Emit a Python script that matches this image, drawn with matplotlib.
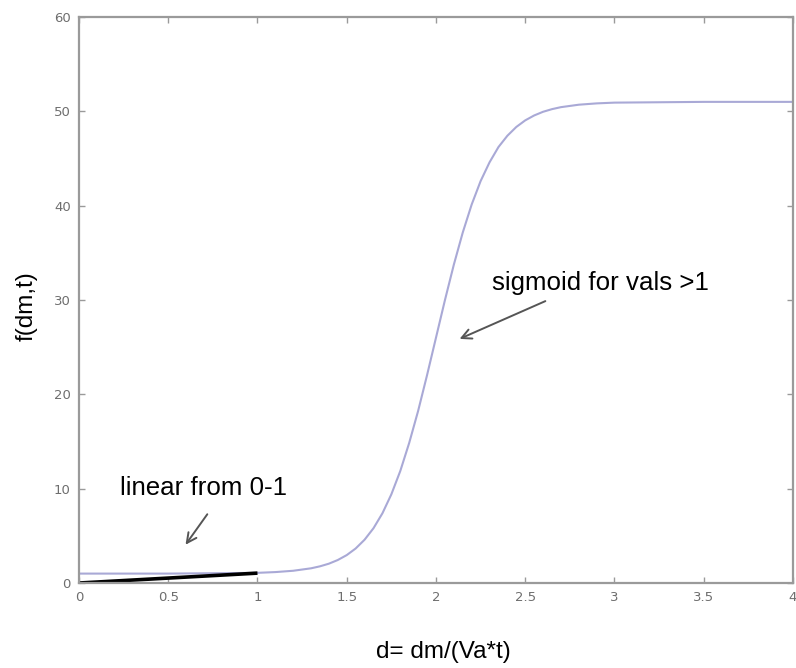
import matplotlib
matplotlib.use('Agg')
import matplotlib.pyplot as plt

plt.rcParams['font.family'] = ['Liberation Sans', 'DejaVu Sans']

# sigmoid curve, values
sig_x = [0.0, 0.5, 1.0, 1.1, 1.2, 1.3, 1.35, 1.4, 1.45, 1.5, 1.55, 1.6, 1.65,
         1.7, 1.75, 1.8, 1.85, 1.9, 1.95, 2.0, 2.05, 2.1, 2.15, 2.2, 2.25,
         2.3, 2.35, 2.4, 2.45, 2.5, 2.55, 2.6, 2.65, 2.7, 2.8, 2.9, 3.0,
         3.5, 4.0]
sig_y = [1.0, 1.0, 1.08, 1.16, 1.3, 1.56, 1.77, 2.05, 2.44, 2.96, 3.66, 4.59,
         5.81, 7.39, 9.4, 11.87, 14.85, 18.24, 22.03, 26.0, 29.97, 33.74,
         37.15, 40.12, 42.6, 44.59, 46.21, 47.41, 48.34, 49.04, 49.56, 49.95,
         50.23, 50.44, 50.7, 50.84, 50.92, 51.0, 51.0]

# linear part 0-1
lin_x = [0.0, 1.0]
lin_y = [0.0, 1.05]

x_ticks = [0, 0.5, 1, 1.5, 2, 2.5, 3, 3.5, 4]
x_labels = ['0', '0.5', '1', '1.5', '2', '2.5', '3', '3.5', '4']
y_ticks = [0, 10, 20, 30, 40, 50, 60]

fig = plt.figure(figsize=(7.96, 6.68), dpi=100)
ax = fig.add_axes([0.0992, 0.1272, 0.897, 0.8474])

ax.plot(sig_x, sig_y, color='#a9a9d6', lw=1.5)
ax.plot(lin_x, lin_y, color='black', lw=2.6, solid_capstyle='butt')

ax.set_xlim(0, 4)
ax.set_ylim(0, 60)
ax.set_xticks(x_ticks)
ax.set_xticklabels(x_labels)
ax.set_yticks(y_ticks)

for s in ax.spines.values():
    s.set_color('#9a9a9a')
    s.set_linewidth(1.6)
ax.tick_params(direction='in', top=True, right=True, length=4, width=1,
               color='#9a9a9a', labelsize=9.5, labelcolor='#6e6e6e', pad=6)
for lab in ax.get_xticklabels() + ax.get_yticklabels():
    lab.set_family('DejaVu Sans')

ax.set_xlabel('d= dm/(Va*t)', fontsize=17.5)
ax.set_ylabel('f(dm,t)', fontsize=17.5)
ax.xaxis.set_label_coords(0.511, -0.122)
ax.yaxis.set_label_coords(-0.073, 0.49)
ax.xaxis.label.set_va('center')
ax.yaxis.label.set_va('center')

ax.text(0.23, 9.33, 'linear from 0-1', fontsize=18.6, va='baseline')
ax.text(2.314, 31.06, 'sigmoid for vals >1', fontsize=18.6, va='baseline')

ax.annotate('', xy=(0.588, 3.82), xytext=(0.728, 7.53),
            arrowprops=dict(arrowstyle='->,head_length=0.7,head_width=0.35',
                            color='#555555', lw=1.4))
ax.annotate('', xy=(2.118, 25.76), xytext=(2.627, 30.0),
            arrowprops=dict(arrowstyle='->,head_length=0.7,head_width=0.35',
                            color='#555555', lw=1.4))

fig.savefig('out.png', dpi=100)
